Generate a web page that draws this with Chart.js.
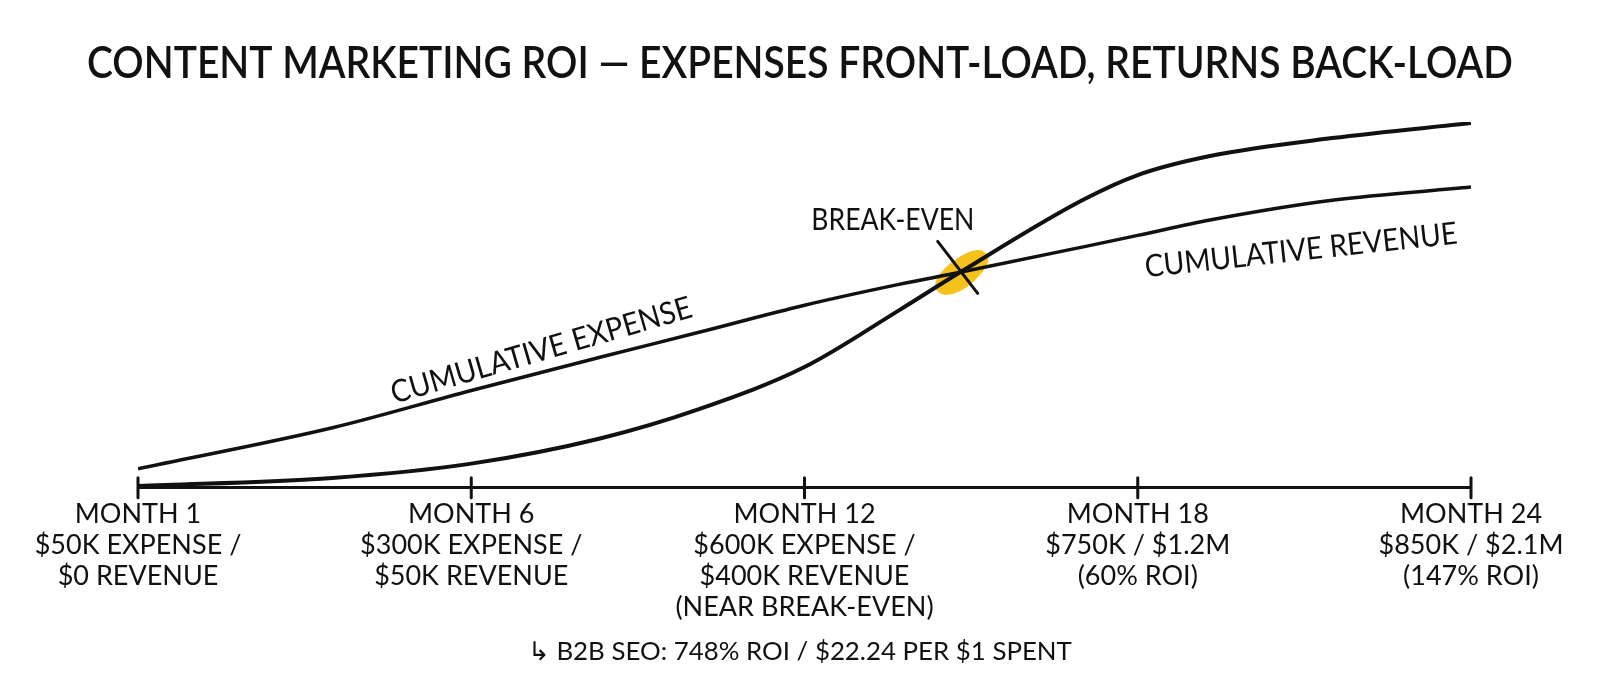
<!DOCTYPE html>
<html><head><meta charset="utf-8">
<script src="https://cdn.jsdelivr.net/npm/chart.js@4.4.1/dist/chart.umd.min.js"></script>
<style>html,body{margin:0;padding:0;background:#fff;} #wrap{width:1600px;height:679px;position:relative;}</style>
</head><body><div id="wrap"><canvas id="c"></canvas></div>
<script>
// timeline position (0 = month 1 tick, 24 = month 24 tick) and relative curve heights (0-100)
const months = [0, 3.5, 6, 8.3, 10.1, 12, 13.7, 14.8, 17, 18, 19.3, 21.5, 24];
const cumulativeExpense = [5.2, 16.4, 26.6, 35.6, 42.5, 49.9, 55.6, 58.9, 65.8, 69.0, 73.2, 78.6, 82.2];
const cumulativeRevenue = [0.5, 2.7, 6.6, 13.4, 21.5, 33.0, 48.5, 58.9, 78.6, 85.5, 90.7, 95.6, 99.7];
const tickMonths = [0, 6, 12, 18, 24];
const tickLabels = [
  ["MONTH 1", "$50K EXPENSE /", "$0 REVENUE"],
  ["MONTH 6", "$300K EXPENSE /", "$50K REVENUE"],
  ["MONTH 12", "$600K EXPENSE /", "$400K REVENUE", "(NEAR BREAK-EVEN)"],
  ["MONTH 18", "$750K / $1.2M", "(60% ROI)"],
  ["MONTH 24", "$850K / $2.1M", "(147% ROI)"]
];
const titleText = "CONTENT MARKETING ROI \u2014 EXPENSES FRONT-LOAD, RETURNS BACK-LOAD";
const footnoteText = "\u21b3 B2B SEO: 748% ROI / $22.24 PER $1 SPENT";
const curveLabels = [
  { text: "CUMULATIVE EXPENSE", t: 7.26, v: 37.5, angle: -16.2, w: 312 },
  { text: "CUMULATIVE REVENUE", t: 20.94, v: 64.9, angle: -6.2, w: 314 }
];
const breakEvenPoint = { t: 14.83, v: 58.9 };
const breakEvenLabel = { text: "BREAK-EVEN", t: 13.59, v: 73.2, w: 163 };

const FONT = "Lato, 'Noto Sans', 'DejaVu Sans', sans-serif";
const INK = '#111111';

function fitSize(text, weight, targetWidth, base) {
  const c = document.createElement('canvas').getContext('2d');
  c.font = weight + ' ' + base + 'px ' + FONT;
  return base * targetWidth / c.measureText(text).width;
}

function build() {
  const titleSize = 45;
  const labelSize = 31;
  const footSize = fitSize(footnoteText, 'normal', 544, 26);

  const annotate = {
    id: 'annotate',
    beforeDatasetsDraw(chart) {
      const { ctx, scales: { x, y } } = chart;
      const px = x.getPixelForValue(breakEvenPoint.t), py = y.getPixelForValue(breakEvenPoint.v);
      ctx.save();
      ctx.translate(px, py);
      ctx.rotate(-35 * Math.PI / 180);
      ctx.fillStyle = '#F5C21B';
      [[0, 0, 31, 14], [-4, 3, 26, 12], [5, -3, 25, 11]].forEach(e => {
        ctx.beginPath(); ctx.ellipse(e[0], e[1], e[2], e[3], 0, 0, Math.PI * 2); ctx.fill();
      });
      ctx.restore();
    },
    afterDatasetsDraw(chart) {
      const { ctx, scales: { x, y } } = chart;
      const axisY = y.getPixelForValue(0);
      ctx.save();
      ctx.strokeStyle = INK; ctx.lineWidth = 3; ctx.lineCap = 'round';
      tickMonths.forEach(m => {
        const tx = x.getPixelForValue(m);
        ctx.beginPath(); ctx.moveTo(tx, axisY - 10); ctx.lineTo(tx, axisY + 10); ctx.stroke();
      });
      const px = x.getPixelForValue(breakEvenPoint.t), py = y.getPixelForValue(breakEvenPoint.v);
      ctx.beginPath(); ctx.moveTo(px - 24, py - 31); ctx.lineTo(px + 16, py + 21); ctx.stroke();
      ctx.fillStyle = INK;
      ctx.textAlign = 'center'; ctx.textBaseline = 'middle';
      ctx.font = 'normal ' + labelSize + 'px ' + FONT;
      curveLabels.forEach(l => {
        ctx.save();
        ctx.translate(x.getPixelForValue(l.t), y.getPixelForValue(l.v));
        ctx.rotate(l.angle * Math.PI / 180);
        ctx.fillText(l.text, 0, 0, l.w);
        ctx.restore();
      });
      ctx.fillText(breakEvenLabel.text, x.getPixelForValue(breakEvenLabel.t), y.getPixelForValue(breakEvenLabel.v), breakEvenLabel.w);
      ctx.restore();
    }
  };

  const hiddenSide = {
    display: true, min: 0, max: 100,
    ticks: { display: false }, grid: { display: false, drawTicks: false }, border: { display: false }
  };

  new Chart(document.getElementById('c'), {
    type: 'line',
    data: {
      datasets: [
        { label: 'Cumulative expense', data: months.map((m, i) => ({ x: m, y: cumulativeExpense[i] })),
          borderColor: INK, borderWidth: 3.5, pointRadius: 0, cubicInterpolationMode: 'monotone', fill: false },
        { label: 'Cumulative revenue', data: months.map((m, i) => ({ x: m, y: cumulativeRevenue[i] })),
          borderColor: INK, borderWidth: 4, pointRadius: 0, cubicInterpolationMode: 'monotone', fill: false }
      ]
    },
    options: {
      responsive: true, maintainAspectRatio: false, animation: false,
      layout: { padding: { left: 87, right: 87, top: 0, bottom: 0 } },
      plugins: {
        legend: { display: false },
        tooltip: { enabled: false },
        title: { display: true, text: titleText, color: INK,
          font: { family: FONT, size: titleSize, weight: '600', lineHeight: 1.2 },
          padding: { top: 63 - 0.6 * titleSize, bottom: 59 - 0.6 * titleSize } },
        subtitle: { display: true, position: 'bottom', text: footnoteText, color: INK,
          font: { family: FONT, size: footSize, lineHeight: 1.2 }, padding: { top: 2, bottom: 12 } }
      },
      scales: {
        x: { type: 'linear', min: 0, max: 24,
          afterBuildTicks: s => { s.ticks = tickMonths.map(v => ({ value: v })); },
          grid: { display: false, drawTicks: false, tickLength: 0 },
          border: { display: true, color: INK, width: 3 },
          ticks: { color: INK, padding: 11, maxRotation: 0, autoSkip: false,
            font: { family: FONT, size: 27, lineHeight: 1.15 },
            callback: v => tickLabels[tickMonths.indexOf(v)] } },
        y: Object.assign({ position: 'left', afterFit: s => { s.width = 51; } }, hiddenSide),
        y2: Object.assign({ position: 'right', afterFit: s => { s.width = 42; } }, hiddenSide)
      }
    },
    plugins: [annotate]
  });
}

Promise.all([document.fonts.load('600 45px Lato'), document.fonts.load('26px "DejaVu Sans"')])
  .catch(() => {}).then(build);
</script></body></html>
